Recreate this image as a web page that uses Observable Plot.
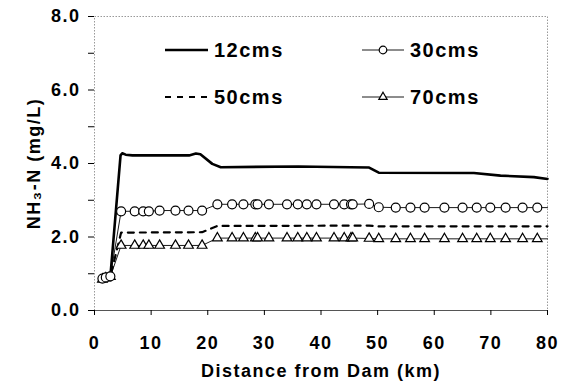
<!DOCTYPE html>
<html><head><meta charset="utf-8">
<script src="https://cdn.jsdelivr.net/npm/d3@7"></script>
<script src="https://cdn.jsdelivr.net/npm/@observablehq/plot@0.6"></script>
<style>
body{margin:0;background:#fff;}
#wrap{position:relative;width:567px;height:389px;}
#wrap svg text{letter-spacing:1.5px;}
#legend{position:absolute;left:0;top:0;pointer-events:none;}
#legend text{font-family:"Liberation Sans",Arial,sans-serif;font-weight:bold;font-size:20px;letter-spacing:1px;}
</style></head>
<body><div id="wrap"></div>
<script>
// Marker positions (km) shared by the 30cms and 70cms series; last entry is the line end at 80 km
const kmMarked = [1.4, 2.0, 2.8, 4.7, 7.1, 8.6, 9.6, 11.5, 14.3, 16.6, 19.0,
  21.7, 24.3, 26.3, 28.4, 28.8, 30.8, 34.0, 35.9, 37.5, 39.2, 42.3, 44.1, 45.3, 45.6, 48.5,
  50.2, 53.2, 55.8, 58.3, 61.8, 65.0, 67.5, 69.9, 72.6, 75.6, 78.2, 80];
const v30 = [0.87, 0.90, 0.93, 2.70, 2.70, 2.70, 2.70, 2.72, 2.72, 2.72, 2.72,
  2.89, 2.89, 2.89, 2.89, 2.89, 2.89, 2.89, 2.89, 2.89, 2.89, 2.89, 2.89, 2.89, 2.89, 2.90,
  2.81, 2.80, 2.80, 2.80, 2.80, 2.80, 2.80, 2.80, 2.80, 2.80, 2.80, 2.80];
const v70 = [0.85, 0.88, 0.92, 1.77, 1.77, 1.77, 1.77, 1.77, 1.77, 1.77, 1.77,
  1.97, 1.97, 1.97, 1.97, 1.97, 1.97, 1.97, 1.97, 1.97, 1.97, 1.97, 1.97, 1.97, 1.97, 1.96,
  1.95, 1.95, 1.95, 1.95, 1.95, 1.95, 1.95, 1.95, 1.95, 1.95, 1.95, 1.95];
const km12 = [1.4, 2.0, 2.8, 4.6, 4.9, 5.5, 6.7, 16.7, 17.9, 18.7, 20.8, 22.3, 36.0, 45.2, 48.5, 50.2, 67.0, 71.7, 77.6, 80];
const v12  = [0.85, 0.88, 0.92, 4.22, 4.28, 4.24, 4.22, 4.22, 4.27, 4.25, 3.99, 3.90, 3.92, 3.90, 3.89, 3.75, 3.74, 3.67, 3.63, 3.58];
const km50 = [1.4, 2.0, 2.8, 4.7, 19.0, 21.7, 48.5, 50.2, 80];
const v50  = [0.87, 0.90, 0.93, 2.12, 2.13, 2.30, 2.31, 2.29, 2.29];
const xTicks = [0, 10, 20, 30, 40, 50, 60, 70, 80];
const yMajor = [0, 2, 4, 6, 8];
const yMinor = [1, 3, 5, 7];
const seriesNames = ["12cms", "30cms", "50cms", "70cms"];

const d12 = km12.map((x, i) => ({x, y: v12[i]}));
const d50 = km50.map((x, i) => ({x, y: v50[i]}));
const d30 = kmMarked.map((x, i) => ({x, y: v30[i], marker: x < 80}));
const d70 = kmMarked.map((x, i) => ({x, y: v70[i], marker: x < 80}));

const font = {fontFamily: '"Liberation Sans", Arial, sans-serif', fontWeight: "bold", fontSize: "18px", background: "#fff", color: "#000"};

const chart = Plot.plot({
  width: 567, height: 389,
  marginLeft: 94, marginRight: 20, marginTop: 16, marginBottom: 79,
  style: font,
  x: {domain: [0, 80]},
  y: {domain: [0, 8]},
  marks: [
    Plot.frame({stroke: "#999", strokeDasharray: "1.5,1.5"}),
    Plot.ruleY([0], {stroke: "#555"}),
    Plot.axisX({ticks: xTicks, tickSize: 5, tickPadding: 21, tickFormat: d3.format("d"),
      label: "Distance from Dam (km)", labelAnchor: "center", labelArrow: "none", labelOffset: 66}),
    Plot.axisY({ticks: yMajor, tickSize: 6, tickPadding: 8, tickFormat: d3.format(".1f"),
      label: "NH₃-N (mg/L)", labelAnchor: "center", labelArrow: "none", labelOffset: 67}),
    Plot.axisY({ticks: yMinor, tickSize: 6, tickFormat: () => "", label: null}),
    Plot.line(d70, {x: "x", y: "y", stroke: "#000", strokeWidth: 0.9}),
    Plot.line(d30, {x: "x", y: "y", stroke: "#000", strokeWidth: 0.9}),
    Plot.line(d50, {x: "x", y: "y", stroke: "#000", strokeWidth: 2.2, strokeDasharray: "6,6"}),
    Plot.line(d12, {x: "x", y: "y", stroke: "#000", strokeWidth: 2.6}),
    Plot.dot(d70.filter(d => d.marker), {x: "x", y: "y", symbol: "triangle", r: 3.6, stroke: "#000", strokeWidth: 1.2, fill: "#fff"}),
    Plot.dot(d30.filter(d => d.marker), {x: "x", y: "y", symbol: "circle", r: 4.5, stroke: "#000", strokeWidth: 1.2, fill: "#fff"})
  ]
});
const wrap = document.getElementById("wrap");
wrap.appendChild(chart);

// Legend overlay (inside plot area, top)
const lg = d3.select(wrap).append("svg").attr("id", "legend").attr("width", 567).attr("height", 389);
const items = [
  {name: seriesNames[0], lx: 165, y: 50, style: "solid"},
  {name: seriesNames[2], lx: 165, y: 97, style: "dash"},
  {name: seriesNames[1], lx: 362, y: 50, style: "circle"},
  {name: seriesNames[3], lx: 362, y: 97, style: "triangle"}
];
for (const it of items) {
  const g = lg.append("g").attr("transform", `translate(${it.lx},${it.y})`);
  const len = it.style === "solid" || it.style === "dash" ? 43 : 42;
  const ln = g.append("line").attr("x1", 0).attr("x2", len).attr("stroke", "#000");
  if (it.style === "solid") ln.attr("stroke-width", 2.6);
  else if (it.style === "dash") ln.attr("stroke-width", 2.2).attr("stroke-dasharray", "6,6");
  else ln.attr("stroke-width", 0.9);
  if (it.style === "circle") g.append("circle").attr("cx", 21).attr("r", 3.8).attr("fill", "#fff").attr("stroke", "#000").attr("stroke-width", 1.2);
  if (it.style === "triangle") g.append("path").attr("d", d3.symbol(d3.symbolTriangle, 30)()).attr("transform", "translate(21,0)").attr("fill", "#fff").attr("stroke", "#000").attr("stroke-width", 1.2);
  g.append("text").attr("x", len + 6).attr("dy", "0.36em").text(it.name);
}
</script></body></html>
